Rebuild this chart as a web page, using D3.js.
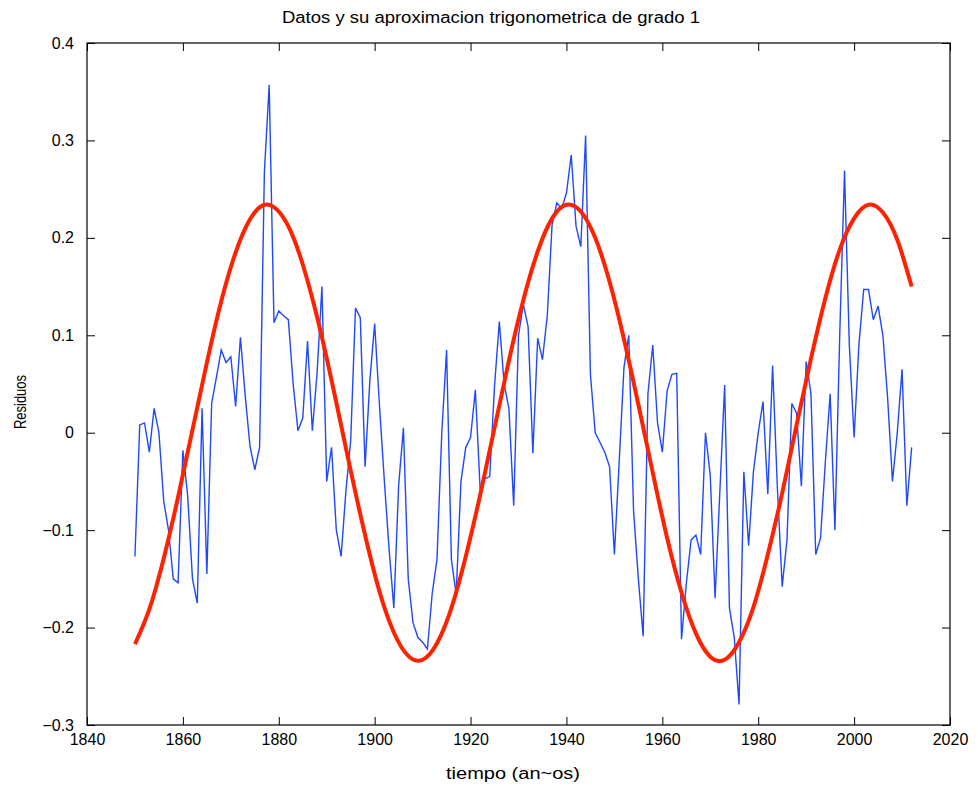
<!DOCTYPE html>
<html>
<head>
<meta charset="utf-8">
<script src="https://cdn.jsdelivr.net/npm/d3@7"></script>
<style>
  body { margin: 0; background: #fff; }
  text { font-family: "Liberation Sans", Arial, sans-serif; fill: #000; }
</style>
</head>
<body>
<div id="main"></div>
<script>
const cte = {
    w: 978,
    h: 786,
    tick: 8,
};
const margin = { top: 43, right: 28, bottom: 61, left: 87 };

// residuos anuales (1850 .. 2012)
const firstYear = 1850;
const residuals = [
    -0.127, 0.008, 0.010, -0.020, 0.025, 0.000, -0.070, -0.100, -0.150, -0.154,   // 1850
    -0.018, -0.065, -0.150, -0.175, 0.025, -0.145, 0.030, 0.057, 0.085, 0.072,    // 1860
    0.078, 0.027, 0.098, 0.038, -0.014, -0.038, -0.015, 0.268, 0.357, 0.113,      // 1870
    0.125, 0.120, 0.116, 0.050, 0.002, 0.015, 0.094, 0.002, 0.062, 0.150,        // 1880
    -0.050, -0.015, -0.100, -0.127, -0.060, -0.008, 0.128, 0.118, -0.035, 0.054,  // 1890
    0.112, 0.028, -0.048, -0.119, -0.180, -0.054, 0.005, -0.150, -0.195, -0.210,  // 1900
    -0.215, -0.222, -0.165, -0.130, 0.000, 0.085, -0.130, -0.166, -0.050, -0.015, // 1910
    -0.005, 0.044, -0.058, -0.047, -0.045, 0.048, 0.114, 0.050, 0.025, -0.075,    // 1920
    0.100, 0.132, 0.109, -0.021, 0.097, 0.075, 0.120, 0.213, 0.236, 0.230,        // 1930
    0.246, 0.285, 0.212, 0.191, 0.305, 0.060, 0.000, -0.010, -0.020, -0.035,      // 1940
    -0.125, -0.030, 0.067, 0.100, -0.080, -0.150, -0.209, 0.040, 0.090, 0.010,    // 1950
    -0.020, 0.043, 0.060, 0.061, -0.212, -0.155, -0.110, -0.105, -0.125, 0.000,   // 1960
    -0.044, -0.170, -0.060, 0.049, -0.180, -0.210, -0.279, -0.040, -0.116, -0.040, // 1970
    0.000, 0.032, -0.063, 0.069, -0.057, -0.158, -0.110, 0.030, 0.020, -0.055,    // 1980
    0.073, 0.040, -0.125, -0.108, -0.030, 0.040, -0.100, 0.100, 0.269, 0.090,     // 1990
    -0.005, 0.090, 0.147, 0.147, 0.116, 0.130, 0.100, 0.035, -0.050, 0.000,       // 2000
    0.065, -0.075, -0.015                                                         // 2010
];

const fitYears = [1850, 1853, 1856, 1859, 1862, 1865, 1868, 1871, 1874, 1877,
    1880, 1883, 1886, 1889, 1892, 1895, 1898, 1901, 1904, 1907,
    1910, 1913, 1916, 1919, 1922, 1925, 1928, 1931, 1934, 1937,
    1940, 1943, 1946, 1949, 1952, 1955, 1958, 1961, 1964, 1967,
    1970, 1973, 1976, 1979, 1982, 1985, 1988, 1991, 1994, 1997,
    2000, 2003, 2006, 2009, 2012];
const fitValues = [-0.217, -0.181, -0.129, -0.066, 0.003, 0.072, 0.135, 0.185, 0.219, 0.234,
    0.227, 0.201, 0.156, 0.098, 0.031, -0.039, -0.105, -0.163, -0.205, -0.229,
    -0.233, -0.216, -0.180, -0.127, -0.064, 0.005, 0.074, 0.136, 0.186, 0.220,
    0.234, 0.227, 0.200, 0.155, 0.096, 0.029, -0.041, -0.108, -0.164, -0.206,
    -0.230, -0.233, -0.215, -0.179, -0.125, -0.062, 0.008, 0.076, 0.138, 0.188,
    0.220, 0.234, 0.226, 0.198, 0.150];

const xTicks = [1840, 1860, 1880, 1900, 1920, 1940, 1960, 1980, 2000, 2020];
const yTicks = [-0.3, -0.2, -0.1, 0, 0.1, 0.2, 0.3, 0.4];

const titleText = "Datos y su aproximacion trigonometrica de grado 1";
const xLabelText = "tiempo (an~os)";
const yLabelText = "Residuos";

const width = cte.w - margin.left - margin.right;
const height = cte.h - margin.top - margin.bottom;

const xScale = d3.scaleLinear().domain([1840, 2020]).range([0, width]);
const yScale = d3.scaleLinear().domain([-0.3, 0.4]).range([height, 0]);

function drawAxes(g) {
    const fmt = d => (d === 0 ? "0" : d3.format(".1f")(d));

    g.append("g")
        .attr("class", "x-axis")
        .attr("transform", `translate(0, ${height})`)
        .call(d3.axisBottom(xScale).tickValues(xTicks).tickFormat(d3.format("d"))
            .tickSizeInner(-cte.tick).tickSizeOuter(0).tickPadding(9));

    g.append("g")
        .attr("class", "y-axis")
        .call(d3.axisLeft(yScale).tickValues(yTicks).tickFormat(fmt)
            .tickSizeInner(-cte.tick).tickSizeOuter(0).tickPadding(13));

    // ticks on the top and right side, no labels
    g.append("g")
        .call(d3.axisTop(xScale).tickValues(xTicks).tickFormat("")
            .tickSizeInner(-cte.tick).tickSizeOuter(0));
    g.append("g")
        .attr("transform", `translate(${width}, 0)`)
        .call(d3.axisRight(yScale).tickValues(yTicks).tickFormat("")
            .tickSizeInner(-cte.tick).tickSizeOuter(0));

    g.selectAll(".domain").remove();
    g.selectAll(".tick line").attr("stroke", "#000").attr("stroke-width", 1);
    g.selectAll(".x-axis text, .y-axis text")
        .style("font-size", "16px")
        .style("font-family", "Liberation Sans, Arial, sans-serif")
        .attr("fill", "#000");

    g.append("rect")
        .attr("x", 0).attr("y", 0)
        .attr("width", width).attr("height", height)
        .attr("fill", "none")
        .attr("stroke", "#000")
        .attr("stroke-width", 1.2);
}

function drawLines(g) {
    const data = residuals.map((v, i) => ({ year: firstYear + i, value: v }));
    const fit = fitYears.map((y, i) => ({ year: y, value: fitValues[i] }));

    const line = d3.line()
        .x(d => xScale(d.year))
        .y(d => yScale(d.value));

    g.append("path")
        .datum(data)
        .attr("d", line)
        .attr("fill", "none")
        .attr("stroke", "#1f48ff")
        .attr("stroke-width", 1.4);

    g.append("path")
        .datum(fit)
        .attr("d", line.curve(d3.curveNatural))
        .attr("fill", "none")
        .attr("stroke", "#ff2200")
        .attr("stroke-width", 4)
        .attr("stroke-linejoin", "round");
}

function createVisualisation() {
    const svg = d3.select("#main").append("svg")
        .attr("width", cte.w)
        .attr("height", cte.h);

    const g = svg.append("g")
        .attr("transform", `translate(${margin.left}, ${margin.top})`);

    drawLines(g);
    drawAxes(g);

    // Main Title
    svg.append("text")
        .attr("x", 491)
        .attr("y", 23)
        .attr("text-anchor", "middle")
        .attr("textLength", 418)
        .attr("lengthAdjust", "spacingAndGlyphs")
        .style("font-size", "16px")
        .text(titleText);

    svg.append("text")
        .attr("x", 513)
        .attr("y", 779)
        .attr("text-anchor", "middle")
        .attr("textLength", 134)
        .attr("lengthAdjust", "spacingAndGlyphs")
        .style("font-size", "16px")
        .text(xLabelText);

    svg.append("text")
        .attr("transform", "translate(26, 402) rotate(-90)")
        .attr("text-anchor", "middle")
        .attr("textLength", 54)
        .attr("lengthAdjust", "spacingAndGlyphs")
        .style("font-size", "16px")
        .text(yLabelText);
}

createVisualisation();
</script>
</body>
</html>
